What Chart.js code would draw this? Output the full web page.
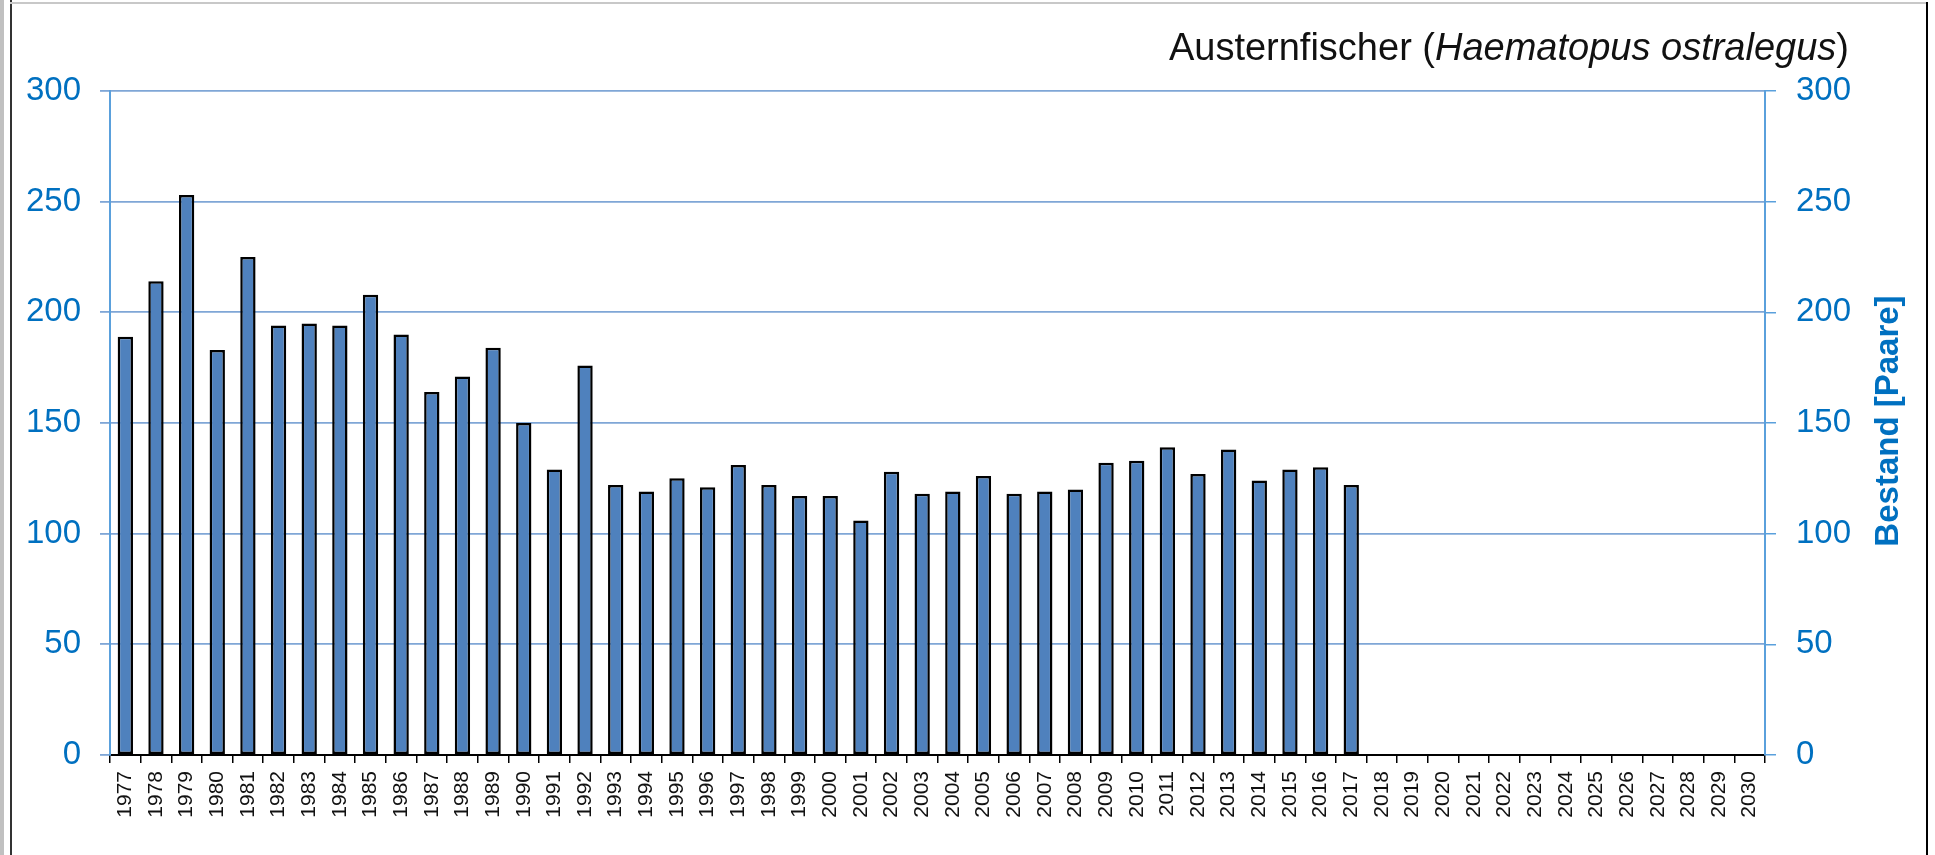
<!DOCTYPE html>
<html>
<head>
<meta charset="utf-8">
<script src="https://cdn.jsdelivr.net/npm/chart.js@4"></script>
<style>
  body { margin: 0; background: #fff; }
  #wrap { position: relative; width: 1935px; height: 855px; overflow: hidden; }
  #wrap canvas { position: absolute; left: 0; top: 0; }
  .line { position: absolute; }
  #title {
    position: absolute; right: 86px; top: 28px;
    font: 38px Arial, "Liberation Sans", sans-serif; line-height: 1; color: #111;
    white-space: nowrap;
  }
  #ytitle {
    position: absolute; left: 1736px; top: 405px; width: 300px; text-align: center;
    font: bold 33px Arial, "Liberation Sans", sans-serif; line-height: 33px; color: #0070c0;
    transform: rotate(-90deg); transform-origin: 150px 16px; white-space: nowrap;
  }
</style>
</head>
<body>
<div id="wrap">
  <canvas id="barChart"></canvas>
  <div class="line" style="left:0;top:0;width:4px;height:855px;background:#c0c0c0"></div>
  <div class="line" style="left:10px;top:0;width:2px;height:855px;background:#333"></div>
  <div class="line" style="left:10px;top:2px;width:1918px;height:2px;background:#c8c8c8"></div>
  <div class="line" style="left:1926px;top:2px;width:2px;height:853px;background:#000"></div>
  <div id="title">Austernfischer (<i>Haematopus ostralegus</i>)</div>
  <div id="ytitle">Bestand [Paare]</div>
</div>
<script>
const years = [];
for (let y = 1977; y <= 2030; y++) years.push(String(y));

// Brutpaare 1977-2017, danach noch keine Werte
const pairs = [189, 214, 253, 183, 225, 194, 195, 194, 208, 190,
               164, 171, 184, 150, 129, 176, 122, 119, 125, 121,
               131, 122, 117, 117, 106, 128, 118, 119, 126, 118,
               119, 120, 132, 133, 139, 127, 138, 124, 129, 130,
               122];

const yTicks = [0, 50, 100, 150, 200, 250, 300];

const blue = '#0070c0';
const gridBlue = '#7fa6d6';
const axisBlue = '#5aa0dc';
const font = 'Arial, "Liberation Sans", sans-serif';

const ctx = document.getElementById('barChart').getContext('2d');
const barChart = new Chart(ctx, {
    type: 'bar',
    data: {
        labels: years,
        datasets: [{
            label: 'Bestand',
            data: pairs,
            backgroundColor: '#4f81bd',
            borderColor: '#000',
            borderWidth: 2.5,
            borderSkipped: false,
            categoryPercentage: 1,
            barPercentage: 0.5
        }]
    },
    options: {
        responsive: true,
        maintainAspectRatio: false,
        animation: false,
        layout: { padding: { top: 91, left: 0, right: 0, bottom: 0 } },
        plugins: {
            legend: { display: false },
            tooltip: { enabled: false }
        },
        scales: {
            x: {
                z: 1,
                grid: {
                    offset: true,
                    drawOnChartArea: false,
                    drawTicks: true,
                    tickLength: 8,
                    color: '#000',
                    lineWidth: 1.5
                },
                border: { color: '#000', width: 2 },
                ticks: {
                    autoSkip: false,
                    minRotation: 90,
                    maxRotation: 90,
                    padding: 8,
                    color: '#111',
                    font: { family: font, size: 21 }
                },
                afterFit: s => { s.height = 100; }
            },
            y: {
                position: 'left',
                min: 0,
                max: 300,
                afterBuildTicks: s => { s.ticks = yTicks.map(v => ({ value: v })); },
                grid: { color: gridBlue, lineWidth: 1.8, tickLength: 10 },
                border: { color: axisBlue, width: 2 },
                ticks: {
                    padding: 19,
                    color: blue,
                    font: { family: font, size: 33 }
                },
                afterFit: s => { s.width = 110; }
            },
            y2: {
                position: 'right',
                min: 0,
                max: 300,
                afterBuildTicks: s => { s.ticks = yTicks.map(v => ({ value: v })); },
                grid: { drawOnChartArea: false, color: axisBlue, lineWidth: 1.5, tickLength: 11 },
                border: { color: axisBlue, width: 2 },
                ticks: {
                    padding: 20,
                    color: blue,
                    font: { family: font, size: 33 }
                },
                afterFit: s => { s.width = 170; }
            }
        }
    }
})
</script>
</body>
</html>
